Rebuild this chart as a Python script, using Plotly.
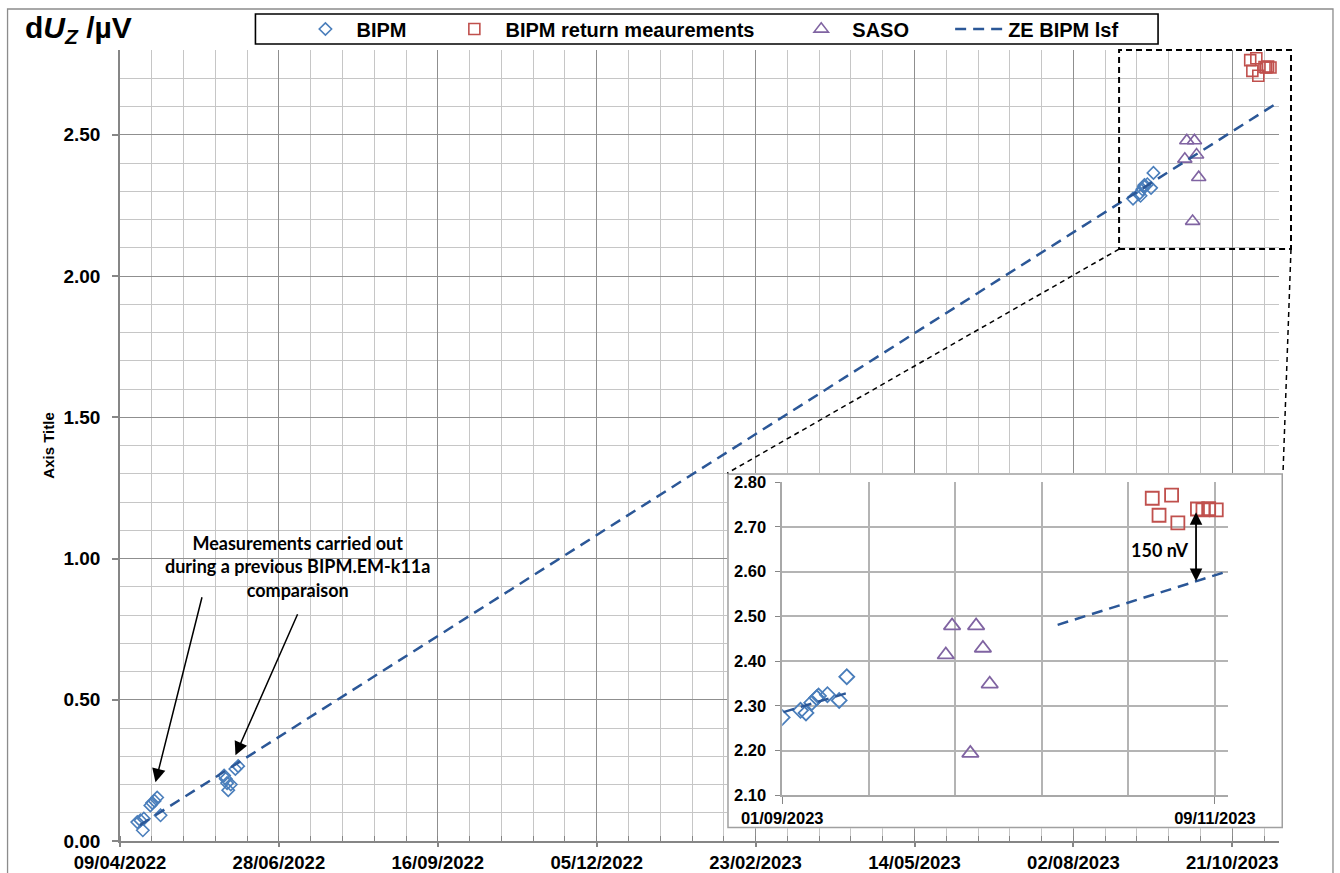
import pandas as pd
import plotly.graph_objects as go

# ---------------- data ----------------
bipm_dates = [
    "2022-04-17 17:00", "2022-04-19 07:00", "2022-04-20 12:00", "2022-04-21 00:00",
    "2022-04-24 07:00", "2022-04-25 05:00", "2022-04-26 10:00", "2022-04-27 17:00", "2022-04-29 10:00",
    "2022-05-31 10:00", "2022-06-01 05:00", "2022-06-01 22:00", "2022-06-02 12:00",
    "2022-06-03 19:00", "2022-06-06 02:00", "2022-06-07 12:00",
    "2023-09-01 00:00", "2023-09-03 22:00", "2023-09-04 19:00", "2023-09-05 17:00",
    "2023-09-06 12:00", "2023-09-06 19:00", "2023-09-08 05:00", "2023-09-10 02:00", "2023-09-11 07:00",
]
bipm_vals = [
    0.067, 0.073, 0.038, 0.079,
    0.126, 0.135, 0.142, 0.154, 0.091,
    0.232, 0.220, 0.205, 0.180,
    0.200, 0.255, 0.265,
    2.274, 2.290, 2.284, 2.307,
    2.318, 2.322, 2.325, 2.312, 2.365,
]
ret_dates = [
    "2023-10-30 00:00", "2023-10-31 02:00", "2023-11-02 02:00", "2023-11-03 02:00",
    "2023-11-06 05:00", "2023-11-07 02:00", "2023-11-08 00:00", "2023-11-09 05:00",
]
ret_vals = [2.764, 2.726, 2.771, 2.709, 2.740, 2.738, 2.741, 2.738]
saso_dates = [
    "2023-09-27 02:00", "2023-09-28 02:00", "2023-10-01 00:00",
    "2023-10-01 22:00", "2023-10-03 00:00", "2023-10-04 02:00",
]
saso_vals = [2.414, 2.479, 2.194, 2.479, 2.429, 2.349]
lsf_dates = ["2022-04-19", "2023-11-12"]
lsf_vals = [0.056, 2.610]
lsf_inset_a_dates = ["2023-09-01 05:00", "2023-09-11 05:00"]
lsf_inset_a_vals = [2.286, 2.328]
lsf_inset_b_dates = ["2023-10-14 22:00", "2023-11-11 02:00"]
lsf_inset_b_vals = [2.481, 2.601]

series_names = ["BIPM", "BIPM return meaurements", "SASO", "ZE BIPM lsf"]
main_x_start, main_x_end = "2022-04-09", "2023-11-13 12:00"
inset_x_first, inset_x_last = "2023-09-01", "2023-11-09"
inset_x_end = "2023-11-11 02:00"
inset_x_labels = ["01/09/2023", "09/11/2023"]

# ---------------- styling ----------------
BLUE, RED, PURPLE, LSF = "#4a7ebb", "#c0504d", "#8064a2", "#2b5797"
GRID_MAJ, GRID_MIN, AXIS = "#8f8f8f", "#c6c6c6", "#868686"
ARIAL = "Liberation Sans, Arial"
CAL = "Lato, Carlito, Calibri"

# pixel -> paper helpers (layout only)
L, R, T, B = 119.5, 1284.0, 50.0, 840.7
W, H = R - L, B - T
def px(x):
    return (x - L) / W
def py(y):
    return (B - y) / H

DAY = 86400000
NB = "\u00a0"

fig = go.Figure()

# main traces
fig.add_trace(go.Scatter(x=bipm_dates, y=bipm_vals, mode="markers", name=NB * 2 + series_names[0],
                         legend="legend",
                         marker=dict(symbol="diamond-open", size=9.5, color=BLUE, line=dict(width=1.6, color=BLUE))))
fig.add_trace(go.Scatter(x=ret_dates, y=ret_vals, mode="markers", name=NB * 2 + series_names[1],
                         legend="legend2",
                         marker=dict(symbol="square-open", size=11, color=RED, line=dict(width=1.6, color=RED))))
fig.add_trace(go.Scatter(x=saso_dates, y=saso_vals, mode="markers", name=NB * 2 + series_names[2],
                         legend="legend3",
                         marker=dict(symbol="triangle-up-open", size=12.5, color=PURPLE, line=dict(width=1.6, color=PURPLE))))
fig.add_trace(go.Scatter(x=lsf_dates, y=lsf_vals, mode="lines", name=series_names[3],
                         legend="legend4",
                         line=dict(color=LSF, width=2.5, dash="11px,7px")))

# dummy subplot that carries the white inset frame
fig.add_trace(go.Scatter(x=[0.5], y=[0.5], xaxis="x2", yaxis="y2", mode="markers",
                         marker=dict(opacity=0), showlegend=False, hoverinfo="skip"))

# inset traces
fig.add_trace(go.Scatter(x=bipm_dates, y=bipm_vals, mode="markers", xaxis="x3", yaxis="y3", showlegend=False,
                         marker=dict(symbol="diamond-open", size=11.5, color=BLUE, line=dict(width=1.8, color=BLUE))))
fig.add_trace(go.Scatter(x=ret_dates, y=ret_vals, mode="markers", xaxis="x3", yaxis="y3", showlegend=False,
                         marker=dict(symbol="square-open", size=13, color=RED, line=dict(width=1.8, color=RED))))
fig.add_trace(go.Scatter(x=saso_dates, y=saso_vals, mode="markers", xaxis="x3", yaxis="y3", showlegend=False,
                         marker=dict(symbol="triangle-up-open", size=14.5, color=PURPLE, line=dict(width=1.8, color=PURPLE))))
fig.add_trace(go.Scatter(x=lsf_inset_a_dates, y=lsf_inset_a_vals, mode="lines", xaxis="x3", yaxis="y3",
                         showlegend=False, line=dict(color=LSF, width=2.5, dash="11px,7px")))
fig.add_trace(go.Scatter(x=lsf_inset_b_dates, y=lsf_inset_b_vals, mode="lines", xaxis="x3", yaxis="y3",
                         showlegend=False, line=dict(color=LSF, width=2.5, dash="11px,7px")))

# inset gridline positions (equal divisions between first and last label)
t0, t1 = pd.Timestamp(inset_x_first), pd.Timestamp(inset_x_last)
inset_minor = [(t0 + (t1 - t0) * k / 5).strftime("%Y-%m-%d %H:%M:%S") for k in range(1, 5)]

tickfont_x = dict(family=ARIAL, size=18.5, color="black", weight="bold")
tickfont_y = dict(family=ARIAL, size=19, color="black", weight="bold")
tickfont_inset = dict(family=ARIAL, size=16.5, color="black", weight="bold")

fig.update_layout(
    width=1340, height=873,
    margin=dict(l=L, r=1340 - R, t=T, b=873 - B, pad=0, autoexpand=False),
    paper_bgcolor="white", plot_bgcolor="white",
    hovermode=False,
    xaxis=dict(
        type="date", domain=[0, px(1279)], range=[main_x_start, main_x_end], automargin=False,
        tick0=main_x_start, dtick=80 * DAY, tickformat="%d/%m/%Y",
        ticks="outside", ticklen=4, tickwidth=1.5, tickcolor=AXIS,
        showgrid=True, gridcolor=GRID_MAJ, gridwidth=1.3,
        showline=True, linecolor=AXIS, linewidth=1.5, zeroline=False,
        minor=dict(tick0=main_x_start, dtick=16 * DAY, showgrid=True, gridcolor=GRID_MIN, gridwidth=1.3,
                   ticks="inside", ticklen=5, tickcolor=AXIS, tickwidth=1),
        tickfont=tickfont_x, anchor="y",
    ),
    yaxis=dict(
        domain=[0, 1], range=[0, 2.8], tick0=0, dtick=0.5, tickformat=".2f", automargin=False,
        ticks="outside", ticklen=6, tickwidth=1.5, tickcolor=AXIS, ticklabelstandoff=8,
        showgrid=True, gridcolor=GRID_MAJ, gridwidth=1.3,
        showline=True, linecolor=AXIS, linewidth=1.5, zeroline=False,
        minor=dict(dtick=0.1, tick0=0, showgrid=True, gridcolor=GRID_MIN, gridwidth=1.3),
        tickfont=tickfont_y, anchor="x",
    ),
    xaxis2=dict(domain=[px(727), px(1283)], range=[0, 1], visible=False, anchor="y2", fixedrange=True,
                automargin=False),
    yaxis2=dict(domain=[py(828), py(473)], range=[0, 1], visible=False, anchor="x2", fixedrange=True,
                automargin=False),
    xaxis3=dict(
        type="date", domain=[px(782), px(1228)], range=[inset_x_first, inset_x_end], automargin=False,
        tickvals=[inset_x_first, inset_x_last], ticktext=inset_x_labels,
        ticks="outside", ticklen=7, tickwidth=1.3, tickcolor=AXIS,
        showgrid=True, gridcolor="#b4b4b4", gridwidth=1.5,
        minor=dict(tickvals=inset_minor, showgrid=True, gridcolor="#b4b4b4", gridwidth=1.5, ticks=""),
        showline=True, linecolor="#a8a8a8", linewidth=1.5, zeroline=False,
        tickfont=tickfont_inset, anchor="y3",
    ),
    yaxis3=dict(
        domain=[py(795), py(482)], range=[2.10, 2.80], tick0=2.1, dtick=0.1, tickformat=".2f",
        automargin=False,
        ticks="outside", ticklen=5, tickwidth=1.3, tickcolor=AXIS, ticklabelstandoff=6,
        showgrid=True, gridcolor="#b4b4b4", gridwidth=1.5,
        showline=True, linecolor="#a8a8a8", linewidth=1.5, zeroline=False,
        tickfont=tickfont_inset, anchor="x3",
    ),
)

legend_common = dict(orientation="h", xanchor="left", yanchor="middle", bgcolor="rgba(0,0,0,0)",
                     borderwidth=0, font=dict(family=ARIAL, size=20, color="black", weight="bold"))
fig.update_layout(
    legend=dict(x=px(305), y=py(29), **legend_common),
    legend2=dict(x=px(454), y=py(29), **legend_common),
    legend3=dict(x=px(801), y=py(29), **legend_common),
    legend4=dict(x=px(950), y=py(29), itemwidth=48, **legend_common),
)

shapes = [
    # chart outer border
    dict(type="rect", xref="paper", yref="paper", x0=px(7), x1=px(1333), y0=py(890), y1=py(9),
         line=dict(color="#8c8c8c", width=1.3), layer="below"),
    # legend box
    dict(type="rect", xref="paper", yref="paper", x0=px(255), x1=px(1158), y0=py(44), y1=py(14),
         line=dict(color="black", width=1.6), layer="above"),
    # white inset frame (in the dummy subplot, above main plot, below inset)
    dict(type="rect", xref="x2", yref="y2", x0=0, x1=1, y0=0, y1=1,
         fillcolor="white", line=dict(color="#a0a0a0", width=3), layer="below"),
    # zoom rectangle
    dict(type="rect", xref="paper", yref="paper", x0=px(1119), x1=px(1291), y0=py(249), y1=py(50),
         line=dict(color="black", width=2, dash="6px,4px"), layer="above"),
    # connectors
    dict(type="line", xref="paper", yref="paper", x0=px(1119), y0=py(249), x1=px(727), y1=py(473),
         line=dict(color="black", width=1.5, dash="5px,4px"), layer="above"),
    dict(type="line", xref="paper", yref="paper", x0=px(1291), y0=py(249), x1=px(1283), y1=py(473),
         line=dict(color="black", width=1.5, dash="5px,4px"), layer="above"),
]
fig.update_layout(shapes=shapes)

tiny = dict(family=ARIAL, size=1, color="white")
annotations = [
    dict(text="<b>d<i>U</i><sub><i>Z</i></sub> /µV</b>", xref="paper", yref="paper", x=px(22), y=py(30),
         xanchor="left", yanchor="middle", showarrow=False, font=dict(family=ARIAL, size=30, color="black")),
    dict(text="<b>Axis Title</b>", xref="paper", yref="paper", x=px(48), y=py(446), textangle=-90,
         xanchor="center", yanchor="middle", showarrow=False, font=dict(family=ARIAL, size=15, color="black")),
    dict(text="<b>Measurements carried out<br>during a previous BIPM.EM-k11a<br>comparaison</b>",
         xref="paper", yref="paper", x=px(297), y=py(566), xanchor="center", yanchor="middle",
         align="center", showarrow=False, font=dict(family=CAL, size=18, color="black")),
    dict(text="<b>150 nV</b>", xref="paper", yref="paper", x=px(1160), y=py(550),
         xanchor="center", yanchor="middle", showarrow=False, font=dict(family=CAL, size=18, color="black")),
    # arrows
    dict(text=NB, font=tiny, xref="paper", yref="paper", x=px(155), y=py(782), ax=47, ay=-187,
         showarrow=True, arrowhead=2, arrowsize=1.8, arrowwidth=1.5, arrowcolor="black", standoff=0),
    dict(text=NB, font=tiny, xref="paper", yref="paper", x=px(235), y=py(755), ax=63, ay=-143,
         showarrow=True, arrowhead=2, arrowsize=1.8, arrowwidth=1.5, arrowcolor="black", standoff=0),
    dict(text=NB, font=tiny, xref="paper", yref="paper", x=px(1196), y=py(512), ax=0, ay=71,
         showarrow=True, arrowhead=2, startarrowhead=2, arrowside="end+start", arrowsize=1.4,
         startarrowsize=1.4, arrowwidth=1.8, arrowcolor="black", standoff=0, startstandoff=0),
]
fig.update_layout(annotations=annotations)

fig.write_html("out.html")
